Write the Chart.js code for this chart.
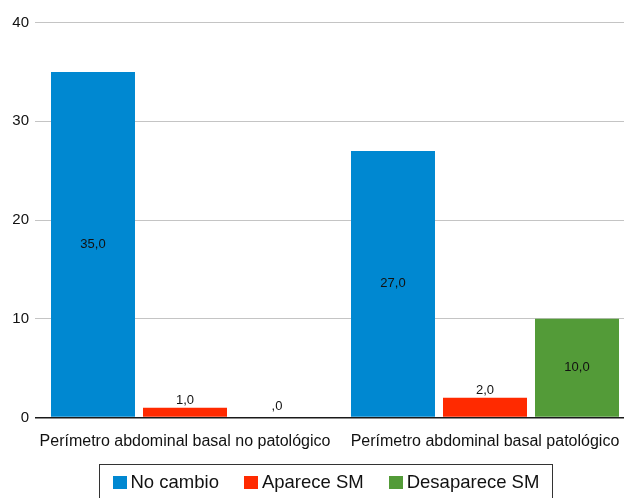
<!DOCTYPE html>
<html>
<head>
<meta charset="utf-8">
<script src="https://cdn.jsdelivr.net/npm/chart.js@4/dist/chart.umd.min.js"></script>
<style>
  html, body { margin: 0; padding: 0; background: #fff; width: 624px; height: 498px; overflow: hidden; }
  canvas { display: block; }
</style>
</head>
<body>
<canvas id="c" width="640" height="498"></canvas>
<script>
// Categories and series values
const categories = ['Perímetro abdominal basal no patológico', 'Perímetro abdominal basal patológico'];
const seriesNames = ['No cambio', 'Aparece SM', 'Desaparece SM'];
const noCambio = [35, 27];
const apareceSM = [1, 2];
const desapareceSM = [0, 10];
const yTicks = [0, 10, 20, 30, 40];

const seriesColors = ['#0088D1', '#FF2A00', '#539B38'];
const FONT = '"Liberation Sans", Arial, Helvetica, sans-serif';

// Decimal comma formatting, zero shown as ",0"
function fmt(v) {
  if (v === 0) return ',0';
  return v.toFixed(1).replace('.', ',');
}

// Value labels: inside the bar when tall enough, otherwise just above it
const valueLabels = {
  id: 'valueLabels',
  afterDatasetsDraw(chart) {
    const ctx = chart.ctx;
    ctx.save();
    ctx.font = '13px ' + FONT;
    ctx.fillStyle = '#111';
    ctx.textAlign = 'center';
    chart.data.datasets.forEach((ds, i) => {
      chart.getDatasetMeta(i).data.forEach((bar, j) => {
        const v = ds.data[j];
        const h = bar.base - bar.y;
        if (h > 30) {
          ctx.textBaseline = 'middle';
          ctx.fillText(fmt(v), bar.x, (bar.y + bar.base) / 2);
        } else {
          ctx.textBaseline = 'alphabetic';
          ctx.fillText(fmt(v), bar.x, bar.y - (v === 0 ? 8 : 4));
        }
      });
    });
    ctx.restore();
  }
};

// Boxed legend below the axis
const boxedLegend = {
  id: 'boxedLegend',
  afterDraw(chart) {
    const ctx = chart.ctx;
    ctx.save();
    ctx.font = '18.5px ' + FONT;
    const sq = 14, gapText = 4, gapItem = 25, padX = 13;
    const items = chart.data.datasets.map(ds => ({
      label: ds.label, color: ds.backgroundColor, w: ctx.measureText(ds.label).width
    }));
    let inner = 0;
    items.forEach((it, k) => { inner += sq + gapText + it.w + (k < items.length - 1 ? gapItem : 0); });
    const boxW = inner + padX * 2;
    const cx = 325;
    const left = Math.round(cx - boxW / 2) + 0.5;
    const top = 464.5;
    ctx.strokeStyle = '#333';
    ctx.lineWidth = 1;
    ctx.strokeRect(left, top, Math.round(boxW), 60);
    let x = left + padX;
    ctx.textBaseline = 'alphabetic';
    ctx.textAlign = 'left';
    items.forEach(it => {
      ctx.fillStyle = it.color;
      ctx.fillRect(Math.round(x), 476, sq, 13);
      x += sq + gapText;
      ctx.fillStyle = '#111';
      ctx.fillText(it.label, x, 487.5);
      x += it.w + gapItem;
    });
    ctx.restore();
  }
};

const chart = new Chart(document.getElementById('c'), {
  type: 'bar',
  data: {
    labels: categories,
    datasets: [
      { label: seriesNames[0], data: noCambio, backgroundColor: seriesColors[0] },
      { label: seriesNames[1], data: apareceSM, backgroundColor: seriesColors[1] },
      { label: seriesNames[2], data: desapareceSM, backgroundColor: seriesColors[2] }
    ]
  },
  options: {
    responsive: false,
    animation: false,
    devicePixelRatio: 1,
    layout: { padding: { top: 22.5, right: 5, bottom: 40.5, left: 0 } },
    datasets: { bar: { categoryPercentage: 0.92, barPercentage: 0.913 } },
    plugins: { legend: { display: false }, tooltip: { enabled: false } },
    scales: {
      x: {
        grid: { display: false },
        border: { display: false },
        ticks: { color: '#111', font: { family: FONT, size: 16 }, padding: 6, maxRotation: 0, autoSkip: false },
        afterFit(s) { s.height = 40; }
      },
      y: {
        min: 0, max: 40,
        afterBuildTicks(s) { s.ticks = yTicks.map(v => ({ value: v })); },
        border: { display: false },
        grid: {
          drawTicks: false,
          color: c => (c.tick && c.tick.value === 0 ? '#1a1a1a' : '#c4c4c4'),
          lineWidth: c => (c.tick && c.tick.value === 0 ? 1.5 : 1)
        },
        ticks: { color: '#111', font: { family: FONT, size: 15 }, padding: 6 },
        afterFit(s) { s.width = 35; }
      }
    }
  },
  plugins: [valueLabels, boxedLegend]
});
</script>
</body>
</html>
